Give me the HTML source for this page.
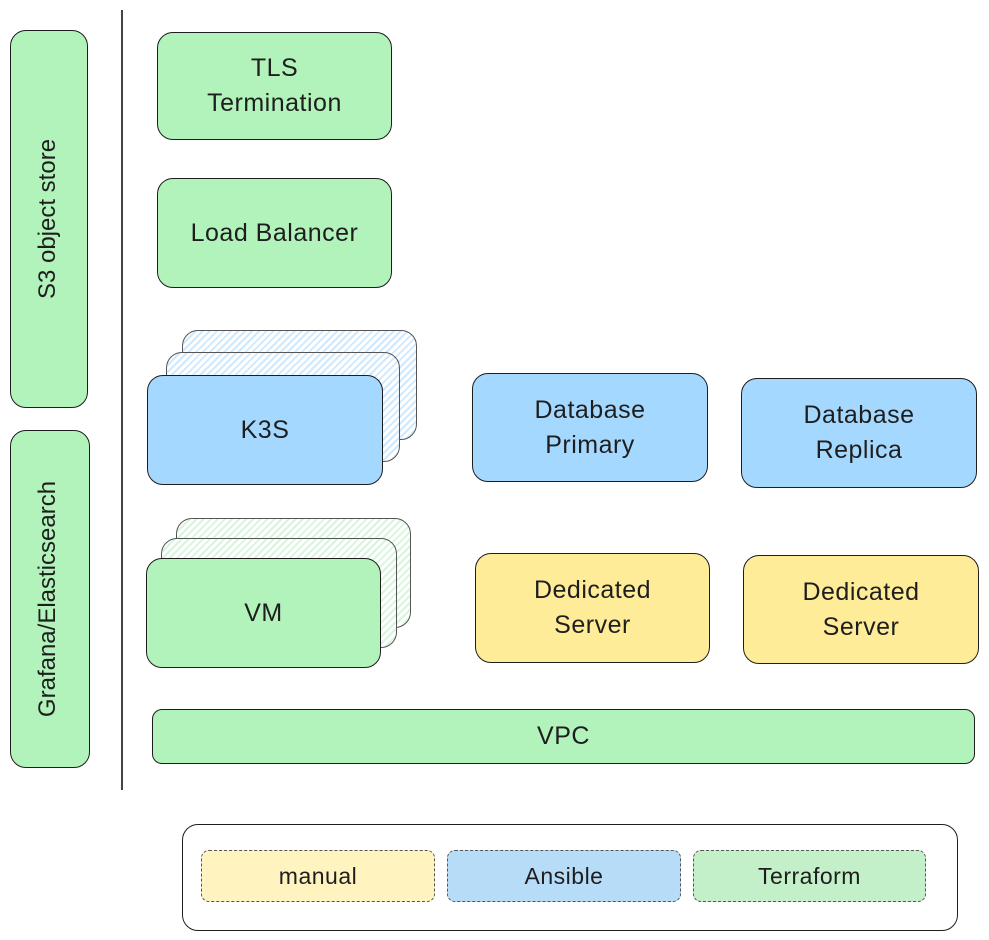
<!DOCTYPE html>
<html><head><meta charset="utf-8"><style>
html,body{margin:0;padding:0;background:#fff;}
body{width:989px;height:940px;position:relative;overflow:hidden;font-family:"Liberation Sans",sans-serif;color:#1e1e1e;}
.b{position:absolute;box-sizing:border-box;border:1.5px solid #1e1e1e;border-radius:16px;display:flex;align-items:center;justify-content:center;text-align:center;font-size:25px;line-height:35px;letter-spacing:0.5px;}
.g{background:#b2f2bb}.bl{background:#a5d8ff}.y{background:#ffec99}
.hg{background:repeating-linear-gradient(135deg,#fff 0 3px,#d7f5dc 3px 5px);border-color:#555}
.hb{background:repeating-linear-gradient(135deg,#fff 0 3px,#cfe9ff 3px 5px);border-color:#555}
.rot{position:absolute;transform:rotate(-90deg);white-space:nowrap;font-size:24px;}
.leg{border:1.5px dashed #555;border-radius:8px;font-size:23px;}
</style></head><body>
<div class="b g" style="left:10px;top:30px;width:78px;height:378px;"></div>
<div class="rot" style="left:-52px;top:205px;width:200px;text-align:center;">S3 object store</div>
<div class="b g" style="left:10px;top:430px;width:80px;height:338px;"></div>
<div class="rot" style="left:-72px;top:585px;width:240px;text-align:center;">Grafana/Elasticsearch</div>
<div style="position:absolute;left:121px;top:10px;width:2px;height:780px;background:#444;"></div>

<div class="b g" style="left:157px;top:32px;width:235px;height:108px;">TLS<br>Termination</div>
<div class="b g" style="left:157px;top:178px;width:235px;height:110px;">Load Balancer</div>

<div class="b hb" style="left:182px;top:330px;width:235px;height:110px;"></div>
<div class="b hb" style="left:166px;top:352px;width:234px;height:110px;"></div>
<div class="b bl" style="left:147px;top:375px;width:236px;height:110px;">K3S</div>

<div class="b bl" style="left:472px;top:373px;width:236px;height:109px;">Database<br>Primary</div>
<div class="b bl" style="left:741px;top:378px;width:236px;height:110px;">Database<br>Replica</div>

<div class="b hg" style="left:176px;top:518px;width:235px;height:110px;"></div>
<div class="b hg" style="left:161px;top:538px;width:236px;height:110px;"></div>
<div class="b g" style="left:146px;top:558px;width:235px;height:110px;">VM</div>

<div class="b y" style="left:475px;top:553px;width:235px;height:110px;">Dedicated<br>Server</div>
<div class="b y" style="left:743px;top:555px;width:236px;height:109px;">Dedicated<br>Server</div>

<div class="b g" style="left:152px;top:709px;width:823px;height:55px;border-radius:10px;">VPC</div>

<div class="b" style="left:182px;top:824px;width:776px;height:107px;background:#fff;"></div>
<div class="b leg" style="left:201px;top:850px;width:234px;height:52px;background:#fff3bf;">manual</div>
<div class="b leg" style="left:447px;top:850px;width:234px;height:52px;background:#b7dcf8;">Ansible</div>
<div class="b leg" style="left:693px;top:850px;width:233px;height:52px;background:#c3efc9;">Terraform</div>
</body></html>
